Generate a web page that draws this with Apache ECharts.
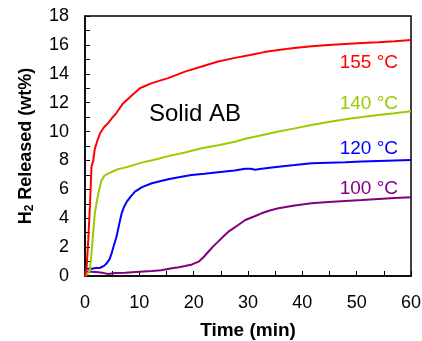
<!DOCTYPE html>
<html lang="en">
<head>
<meta charset="utf-8">
<title>H2 Released</title>
<script src="https://cdn.jsdelivr.net/npm/echarts@6/dist/echarts.min.js"></script>
<style>
  html, body { margin: 0; padding: 0; background: #fff; }
  #chart { width: 422px; height: 341px; }
</style>
</head>
<body>
<div id="chart"></div>
<script>
// time (min) and H2 released (wt%)
var t155 = [0, 0.3, 0.6, 0.9, 1.2, 1.5, 1.8, 2.3, 2.8, 3.5, 4.3, 5.0, 5.8, 7.0, 8.6, 10.1, 12.3, 15.3, 18.4, 21.5, 24.5, 27.6, 30.4, 33, 35.6, 38.5, 41.7, 44.8, 47.9, 51, 54, 57, 60];
var v155 = [0, 0.6, 2.5, 4.8, 7.6, 7.95, 8.8, 9.4, 9.9, 10.3, 10.6, 10.95, 11.3, 11.95, 12.5, 13.0, 13.35, 13.7, 14.15, 14.5, 14.85, 15.1, 15.3, 15.5, 15.65, 15.78, 15.9, 16.0, 16.07, 16.13, 16.18, 16.25, 16.33];

var t140 = [0, 0.5, 0.9, 1.2, 1.5, 1.8, 2.1, 2.5, 3.0, 3.6, 4.3, 5.2, 6.1, 8.0, 10.4, 12.8, 15.3, 18.4, 21.5, 24.5, 27.6, 29.5, 32.5, 35.6, 38.6, 41.7, 44.8, 47.9, 51, 54, 57, 60];
var v140 = [0, 0.15, 0.4, 1.6, 2.95, 4.3, 5.0, 5.8, 6.6, 6.95, 7.1, 7.25, 7.4, 7.57, 7.85, 8.05, 8.3, 8.55, 8.85, 9.05, 9.3, 9.5, 9.75, 10.0, 10.22, 10.46, 10.66, 10.85, 11.0, 11.15, 11.27, 11.4];

var t120 = [0, 0.3, 0.6, 1.2, 2.0, 2.8, 3.5, 4.0, 4.5, 4.9, 5.3, 5.8, 6.3, 6.75, 7.2, 7.7, 8.4, 9.2, 10.5, 12.3, 15.3, 17.5, 19.6, 22, 24.5, 27.5, 29.5, 30.5, 31.3, 32.5, 35.6, 38.6, 41.7, 44.8, 47.9, 51, 54, 57, 60];
var v120 = [0.3, 0.5, 0.55, 0.5, 0.55, 0.57, 0.7, 0.88, 1.15, 1.57, 2.1, 2.72, 3.6, 4.34, 4.8, 5.15, 5.5, 5.84, 6.15, 6.42, 6.7, 6.85, 6.99, 7.08, 7.18, 7.3, 7.42, 7.42, 7.36, 7.42, 7.57, 7.68, 7.8, 7.84, 7.87, 7.92, 7.96, 8.0, 8.03];

var t100 = [0, 1.2, 2.5, 3.5, 4.3, 5.5, 7.4, 10, 12.3, 14, 16, 17.3, 18.4, 19.7, 20.9, 21.8, 22.7, 23.6, 24.5, 25.5, 26.4, 27.3, 28.2, 29.5, 31, 32.5, 34, 35.6, 38.6, 41.7, 44.8, 47.9, 51, 54, 57, 60];
var v100 = [0.3, 0.3, 0.26, 0.2, 0.14, 0.2, 0.23, 0.3, 0.35, 0.4, 0.53, 0.6, 0.69, 0.8, 0.99, 1.3, 1.68, 2.05, 2.38, 2.75, 3.07, 3.3, 3.53, 3.88, 4.1, 4.34, 4.53, 4.69, 4.88, 5.03, 5.12, 5.19, 5.26, 5.33, 5.4, 5.45];

var seriesNames = ['100 °C', '120 °C', '140 °C', '155 °C'];
var seriesColors = ['#800080', '#0000ff', '#99cc00', '#ff0000'];

var FONT = "'Liberation Sans', Arial, sans-serif";

function pairs(t, v) {
    var out = [];
    for (var i = 0; i < t.length; i++) {
        out.push([t[i], v[i]]);
    }
    return out;
}

var allData = [pairs(t100, v100), pairs(t120, v120), pairs(t140, v140), pairs(t155, v155)];

var myChart = echarts.init(document.getElementById('chart'), null, { renderer: 'canvas' });

var series = [];
for (var i = 0; i < allData.length; i++) {
    series.push({
        name: seriesNames[i],
        type: 'line',
        showSymbol: false,
        animation: false,
        lineStyle: { color: seriesColors[i], width: 2 },
        data: allData[i]
    });
}

var option = {
    animation: false,
    grid: {
        left: 85,
        right: 11,
        top: 16,
        bottom: 65,
        show: true,
        borderColor: '#000',
        borderWidth: 1.5,
        containLabel: false,
        outerBoundsMode: 'none'
    },
    xAxis: {
        type: 'value',
        min: 0,
        max: 60,
        interval: 10,
        name: 'Time (min)',
        nameLocation: 'middle',
        nameGap: 45,
        nameTextStyle: { fontFamily: FONT, fontSize: 19, fontWeight: 'bold', color: '#000' },
        axisLine: { lineStyle: { color: '#000', width: 1.5 } },
        axisTick: { inside: true, length: 5, lineStyle: { color: '#000' } },
        minorTick: { show: true, splitNumber: 2, length: 5, lineStyle: { color: '#000' } },
        axisLabel: { fontFamily: FONT, fontSize: 18, color: '#000', margin: 18 },
        splitLine: { show: false }
    },
    yAxis: {
        type: 'value',
        min: 0,
        max: 18,
        interval: 2,
        name: '{a|H}{b|2}{a| Released (wt%)}',
        nameLocation: 'middle',
        nameGap: 49,
        nameTextStyle: {
            rich: {
                a: { fontFamily: FONT, fontSize: 18, fontWeight: 'bold', color: '#000' },
                b: { fontFamily: FONT, fontSize: 12, fontWeight: 'bold', color: '#000', padding: [8, 0, 0, 0] }
            }
        },
        axisLine: { lineStyle: { color: '#000', width: 1.5 } },
        axisTick: { inside: true, length: 5, lineStyle: { color: '#000' } },
        minorTick: { show: true, splitNumber: 2, length: 5, lineStyle: { color: '#000' } },
        axisLabel: { fontFamily: FONT, fontSize: 18, color: '#000', margin: 16 },
        splitLine: { show: false }
    },
    graphic: [
        { type: 'text', left: 149, top: 102, style: { text: 'Solid AB', font: '24px ' + FONT, fill: '#000' } },
        { type: 'text', right: 24, top: 53, style: { text: seriesNames[3], font: '19px ' + FONT, fill: seriesColors[3] } },
        { type: 'text', right: 24, top: 94, style: { text: seriesNames[2], font: '19px ' + FONT, fill: seriesColors[2] } },
        { type: 'text', right: 24, top: 139, style: { text: seriesNames[1], font: '19px ' + FONT, fill: seriesColors[1] } },
        { type: 'text', right: 24, top: 179, style: { text: seriesNames[0], font: '19px ' + FONT, fill: seriesColors[0] } }
    ],
    series: series
};

myChart.setOption(option);
</script>
</body>
</html>
